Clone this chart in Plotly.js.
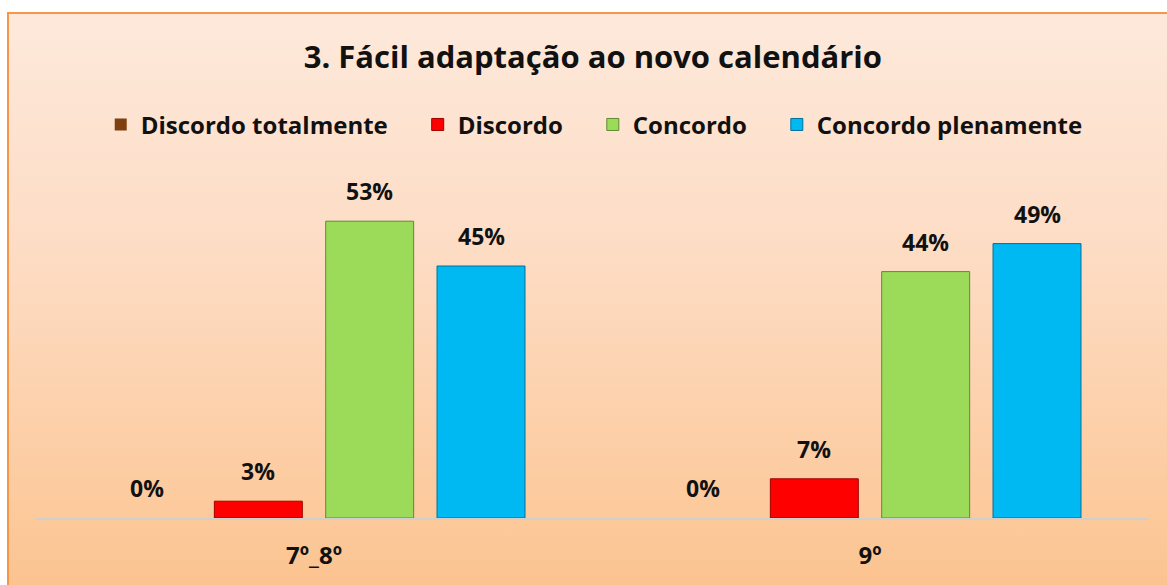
<!DOCTYPE html>
<html><head><meta charset="utf-8">
<script src="https://cdn.plot.ly/plotly-3.0.1.min.js"></script>
<style>
html,body{margin:0;padding:0;background:#fff;width:1167px;height:585px;overflow:hidden;}
#bg{position:absolute;left:7px;top:12px;width:1200px;height:600px;border:2px solid #f79646;
background:linear-gradient(to bottom,#fde9db 0%,#fddcc4 40%,#fcc99a 85%,#fbc08b 100%);}
#chart{position:absolute;left:0;top:0;width:1167px;height:585px;}
</style></head><body>
<div id="bg"></div>
<div id="chart"></div>
<script>
var categories = ['7º_8º', '9º'];
var seriesNames = ['Discordo totalmente', 'Discordo', 'Concordo', 'Concordo plenamente'];
var discordoTotalmente = [0, 0];
var discordo = [3, 7];
var concordo = [53, 44];
var concordoPlenamente = [45, 49];
var seriesValues = [discordoTotalmente, discordo, concordo, concordoPlenamente];
var colors = ['#7f3f0f', '#ff0000', '#9cdb5a', '#00b8f2'];
var lineColors = ['#4a2408', '#a00000', '#5f8a33', '#00709a'];

var FONT = '"Open Sans", Lato, sans-serif';
var bargap = 0.199;
var nSeries = seriesValues.length;
var slot = (1 - bargap) / nSeries;

var traces = seriesValues.map(function(vals, i){
  return {
    type: 'bar', name: '<b>' + seriesNames[i] + '</b>' + (i < nSeries - 1 ? '\u00A0\u00A0\u00A0\u00A0' : ''),
    x: categories, y: vals,
    marker: {color: colors[i], line: {color: lineColors[i], width: vals.map(function(v){ return v > 0 ? 1 : 0; })}},
    hoverinfo: 'none'
  };
});

var annotations = [];
seriesValues.forEach(function(vals, i){
  vals.forEach(function(v, c){
    annotations.push({
      x: c + (i - (nSeries - 1) / 2) * slot, y: v, xref: 'x', yref: 'y',
      text: '<b>' + v + '%</b>', showarrow: false, yanchor: 'bottom', yshift: 12,
      font: {family: FONT, size: 23, color: '#111'}
    });
  });
});

var layout = {
  width: 1167, height: 585,
  paper_bgcolor: 'rgba(0,0,0,0)', plot_bgcolor: 'rgba(0,0,0,0)',
  margin: {l: 36, r: 19, t: 182, b: 67},
  barmode: 'group', bargap: bargap, bargroupgap: 0.21,
  title: {text: '<b>3. Fácil adaptação ao novo calendário</b>', x: 0.508, xanchor: 'center',
          y: 0.903, yanchor: 'middle',
          font: {family: FONT, size: 31, color: '#111'}},
  legend: {orientation: 'h', x: 0.502, xanchor: 'center', y: 1.17, yanchor: 'middle',
           font: {family: FONT, size: 24, color: '#111'},
           bgcolor: 'rgba(0,0,0,0)', itemclick: false, traceorder: 'normal'},
  xaxis: {type: 'category', showline: true, linecolor: '#cfcfcf', linewidth: 2,
          ticks: '', ticklabelstandoff: 15, showgrid: false, zeroline: false,
          tickvals: categories,
          ticktext: categories.map(function(c){ return '<b>' + c + '</b>'; }),
          tickfont: {family: FONT, size: 24, color: '#111'}},
  yaxis: {range: [0, 60], visible: false, showgrid: false, zeroline: false},
  annotations: annotations,
  showlegend: true
};

Plotly.newPlot('chart', traces, layout, {displayModeBar: false, staticPlot: true});
</script>
</body></html>
